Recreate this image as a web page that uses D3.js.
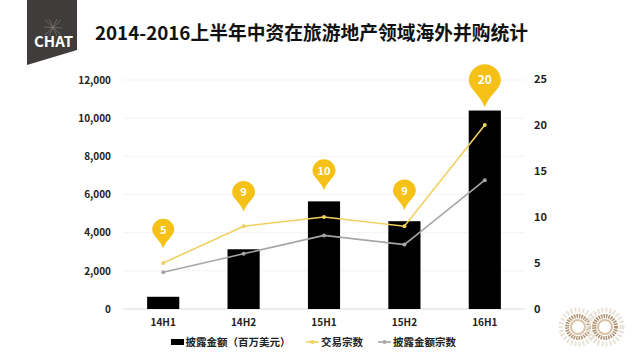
<!DOCTYPE html>
<html><head><meta charset="utf-8">
<script src="https://cdn.jsdelivr.net/npm/d3@7"></script>
<style>html,body{margin:0;background:#fff}text{font-family:"Noto Sans CJK SC","Open Sans",sans-serif}</style>
</head><body><svg id="c" width="640" height="360"></svg>
<script>
const categories=["14H1","14H2","15H1","15H2","16H1"];
const amounts=[640,3130,5640,4600,10400];
const dealCounts=[5,9,10,9,20];
const disclosedCounts=[4,6,8,7,14];
const leftTicks=[0,2000,4000,6000,8000,10000,12000];
const rightTicks=[0,5,10,15,20,25];
const titleText="2014-2016上半年中资在旅游地产领域海外并购统计";
const legendLabels=["披露金额（百万美元）","交易宗数","披露金额宗数"];
const svg=d3.select("#c");
const x=d3.scaleBand().domain(categories).range([123,525]).paddingInner(0.6).paddingOuter(0.3);
const yL=d3.scaleLinear().domain([0,12000]).range([309,80]);
const yR=d3.scaleLinear().domain([0,25]).range([309,79]);
const cx=d=>x(d)+x.bandwidth()/2;
const YEL="#f5c116",GRY="#a6a6a6";
// logo
svg.append("path").attr("d","M27,0H77V50L27,65Z").attr("fill","#3f3c3b");
const lg=svg.append("g").attr("stroke","#8f7f76").attr("stroke-width",.6).attr("fill","none");
[[45,20,61,35],[61,20,45,35],[49,19,57,36],[57,19,49,36],[44,27,62,28]].forEach(s=>lg.append("line").attr("x1",s[0]).attr("y1",s[1]).attr("x2",s[2]).attr("y2",s[3]));
svg.append("text").attr("x",53.5).attr("y",47).attr("text-anchor","middle").attr("fill","#fff").attr("font-size",15).attr("font-weight",700).attr("font-family","Open Sans").text("CHAT");
svg.append("text").attr("x",95).attr("y",40).attr("font-size",18.75).attr("font-weight",700).attr("fill","#111").text(titleText);
// grid
svg.append("g").selectAll("line").data(leftTicks.slice(1)).join("line").attr("x1",123).attr("x2",525).attr("y1",d=>yL(d)).attr("y2",d=>yL(d)).attr("stroke","#f3f3f3");
svg.append("line").attr("x1",123).attr("x2",525).attr("y1",309).attr("y2",309).attr("stroke","#d9d9d9");
// axes
const lA=svg.append("g").attr("transform","translate(118,0)").call(d3.axisLeft(yL).tickValues(leftTicks).tickFormat(d3.format(",")).tickSize(0).tickPadding(7));
const rA=svg.append("g").attr("transform","translate(525,0)").call(d3.axisRight(yR).tickValues(rightTicks).tickSize(0).tickPadding(9));
const bA=svg.append("g").attr("transform","translate(0,309)").call(d3.axisBottom(x).tickSize(0).tickPadding(10));
[lA,rA,bA].forEach(a=>{a.select(".domain").remove();a.selectAll("text").attr("font-size",10).attr("font-weight",600).attr("fill","#222").attr("font-family","Open Sans")});
rA.selectAll("text").attr("font-size",11);
// bars
svg.append("g").selectAll("rect").data(categories).join("rect").attr("x",d=>x(d)).attr("width",x.bandwidth()).attr("y",(d,i)=>yL(amounts[i])).attr("height",(d,i)=>309-yL(amounts[i])).attr("fill","#000");
// lines
const line=d3.line().x(d=>cx(d.c)).y(d=>yR(d.v));
[[disclosedCounts,GRY],[dealCounts,"#f0d060"]].forEach(([vals,col])=>{
 const pts=categories.map((c,i)=>({c,v:vals[i]}));
 svg.append("path").attr("d",line(pts)).attr("fill","none").attr("stroke",col).attr("stroke-width",1.6);
 svg.append("g").selectAll("circle").data(pts).join("circle").attr("cx",d=>cx(d.c)).attr("cy",d=>yR(d.v)).attr("r",2).attr("fill",col);
});
// pins
const rScale=d3.scaleLinear().domain([5,10,20]).range([11,11.5,16]);
categories.forEach((c,i)=>{
 const r=rScale(dealCounts[i]);
 const barTop=yL(amounts[i]),pt=yR(dealCounts[i]);
 const tip=r>14?barTop-3:(barTop<pt?barTop-11:pt-14.5);
 const h=r*1.7, cy=tip-h, px=cx(c);
 const g=svg.append("g");
 g.append("path").attr("d",`M${px},${tip}C${px-r*.25},${tip-h*.45} ${px-r},${cy+r*.55} ${px-r},${cy}A${r},${r} 0 1 1 ${px+r},${cy}C${px+r},${cy+r*.55} ${px+r*.25},${tip-h*.45} ${px},${tip}Z`).attr("fill",YEL);
 g.append("text").attr("x",px).attr("y",cy+4).attr("text-anchor","middle").attr("fill","#fff").attr("font-size",r>14?12:11).attr("font-weight",600).attr("font-family","Open Sans").text(dealCounts[i]);
});
// legend
const lgY=342;
svg.append("rect").attr("x",171).attr("y",339).attr("width",13).attr("height",6).attr("fill","#000");
svg.append("line").attr("x1",306).attr("x2",319).attr("y1",lgY).attr("y2",lgY).attr("stroke","#f0d060").attr("stroke-width",1.6);
svg.append("circle").attr("cx",312.5).attr("cy",lgY).attr("r",2).attr("fill","#f0d060");
svg.append("line").attr("x1",378).attr("x2",391).attr("y1",lgY).attr("y2",lgY).attr("stroke",GRY).attr("stroke-width",1.6);
svg.append("circle").attr("cx",384.5).attr("cy",lgY).attr("r",2).attr("fill",GRY);
[[185.5,legendLabels[0]],[321,legendLabels[1]],[393,legendLabels[2]]].forEach(([px,t])=>svg.append("text").attr("x",px).attr("y",346).attr("font-size",10.5).attr("font-weight",600).attr("fill","#222").text(t));
// ornament
[[578,327],[605,327]].forEach(([ox,oy])=>{
 const g=svg.append("g").attr("fill","none");
 g.append("circle").attr("cx",ox).attr("cy",oy).attr("r",17).attr("stroke","#e9e2d6").attr("stroke-width",5).attr("stroke-dasharray","2 2");
 g.append("circle").attr("cx",ox).attr("cy",oy).attr("r",11).attr("stroke","#ad9270").attr("stroke-width",4).attr("stroke-dasharray","1.5 1");
 g.append("circle").attr("cx",ox).attr("cy",oy).attr("r",7).attr("stroke","#dcc3a6").attr("stroke-width",2);
});
</script></body></html>
